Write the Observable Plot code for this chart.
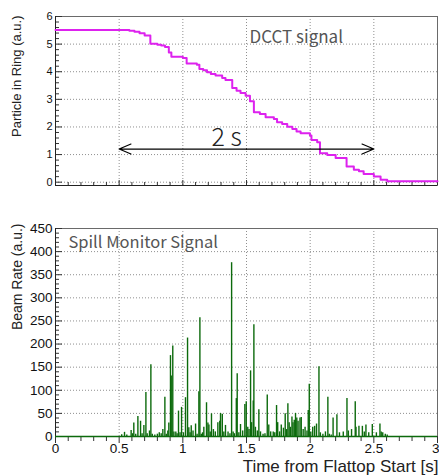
<!DOCTYPE html>
<html>
<head>
<meta charset="utf-8">
<script src="https://cdn.jsdelivr.net/npm/d3@7"></script>
<script src="https://cdn.jsdelivr.net/npm/@observablehq/plot@0.6"></script>
<style>
  html, body { margin: 0; padding: 0; background: #fff; }
  #chart svg { display: block; }
</style>
</head>
<body>
<div id="chart"></div>
<script>
// ---------- data ----------
const dcctTime  = [0, 0.58, 0.62, 0.66, 0.70, 0.745, 0.80, 0.83, 0.86, 0.89, 0.91, 1.00, 1.03, 1.11, 1.13, 1.16, 1.19, 1.22, 1.257, 1.309, 1.335, 1.388, 1.422, 1.453, 1.493, 1.527, 1.558, 1.605, 1.65, 1.715, 1.74, 1.78, 1.82, 1.86, 1.893, 1.925, 1.998, 2.01, 2.055, 2.077, 2.134, 2.20, 2.286, 2.343, 2.383, 2.42, 2.50, 2.553, 2.605, 3.0];
const dcctLevel = [5.51, 5.48, 5.45, 5.39, 5.31, 5.01, 4.98, 4.95, 4.90, 4.70, 4.54, 4.50, 4.30, 4.25, 4.10, 4.05, 3.98, 3.92, 3.86, 3.77, 3.70, 3.41, 3.31, 3.23, 3.13, 2.93, 2.53, 2.47, 2.35, 2.29, 2.17, 2.11, 2.01, 1.93, 1.84, 1.77, 1.69, 1.53, 1.45, 1.05, 0.98, 0.88, 0.57, 0.45, 0.40, 0.30, 0.21, 0.09, 0.03, 0.03];

const spillTime = [0.52, 0.542, 0.56, 0.594, 0.605, 0.615, 0.63, 0.647, 0.668, 0.68, 0.694, 0.71, 0.72, 0.738, 0.749, 0.76, 0.78, 0.80, 0.815, 0.83, 0.843, 0.859, 0.87, 0.882, 0.89, 0.903, 0.909, 0.921, 0.93, 0.945, 0.955, 0.966, 0.978, 0.99, 1.005, 1.021, 1.037, 1.047, 1.057, 1.066, 1.08, 1.10, 1.112, 1.126, 1.134, 1.145, 1.155, 1.165, 1.186, 1.197, 1.205, 1.215, 1.225, 1.24, 1.255, 1.275, 1.29, 1.296, 1.31, 1.322, 1.335, 1.355, 1.37, 1.383, 1.395, 1.405, 1.42, 1.427, 1.44, 1.453, 1.47, 1.487, 1.498, 1.51, 1.52, 1.532, 1.54, 1.553, 1.558, 1.57, 1.585, 1.597, 1.61, 1.63, 1.645, 1.663, 1.675, 1.69, 1.71, 1.722, 1.736, 1.745, 1.76, 1.773, 1.79, 1.804, 1.815, 1.825, 1.835, 1.845, 1.857, 1.865, 1.875, 1.885, 1.895, 1.905, 1.92, 1.93, 1.945, 1.96, 1.975, 1.985, 1.993, 2.005, 2.02, 2.035, 2.05, 2.069, 2.08, 2.10, 2.12, 2.139, 2.15, 2.165, 2.18, 2.21, 2.23, 2.26, 2.289, 2.30, 2.325, 2.354, 2.36, 2.383, 2.41, 2.425, 2.438, 2.46, 2.488, 2.52, 2.548, 2.558, 2.57, 2.59, 2.605];
const spillRate = [4, 9, 3, 13, 6, 29, 5, 43, 33, 6, 24, 95, 6, 12, 155, 5, 3, 5, 8, 6, 15, 85, 5, 12, 29, 175, 131, 196, 10, 10, 6, 55, 8, 63, 8, 84, 213, 19, 8, 23, 12, 27, 5, 97, 257, 5, 8, 20, 73, 29, 25, 10, 49, 15, 10, 30, 33, 50, 48, 10, 24, 10, 6, 376, 10, 6, 82, 136, 8, 26, 12, 69, 75, 20, 15, 142, 30, 77, 242, 20, 12, 58, 10, 5, 6, 90, 25, 10, 10, 8, 67, 30, 10, 25, 18, 49, 15, 71, 30, 20, 42, 30, 35, 50, 40, 33, 40, 41, 15, 20, 12, 56, 113, 10, 20, 22, 27, 151, 8, 5, 10, 85, 5, 3, 40, 47, 8, 10, 82, 12, 15, 75, 20, 22, 22, 10, 25, 8, 26, 8, 27, 10, 8, 5, 3];

const xTickValues = [0, 0.5, 1, 1.5, 2, 2.5, 3];
const xTickLabels = ["0", "0.5", "1", "1.5", "2", "2.5", "3"];
const dcctTickValues = [0, 1, 2, 3, 4, 5, 6];
const rateTickValues = [0, 50, 100, 150, 200, 250, 300, 350, 400, 450];

const arrowSpan = [0.5, 2.5];   // the "2 s" extraction window
const arrowLevel = 1.2;

const topYTitle = "Particle in Ring (a.u.)";
const bottomYTitle = "Beam Rate (a.u.)";
const xTitle = "Time from Flattop Start [s]";
const topLabel = "DCCT signal";
const bottomLabel = "Spill Monitor Signal";
const spanLabel = "2 s";

// ---------- styling ----------
const W = 439;
const FONT = "'Liberation Sans', Arial, Helvetica, sans-serif";
const CJK = "'Noto Sans CJK JP', 'Noto Sans', sans-serif";
const MAGENTA = "#dd22ee";
const GREEN = "#0c6a0c";
const GRID = "#8f8f8f";
const TICK = "#333";

const dcct = dcctTime.map((t, i) => ({t, v: dcctLevel[i]}));
const spill = spillTime.map((t, i) => ({t, v: spillRate[i]}));

const xMinor = d3.range(0, 3.0001, 0.1).filter(v => Math.abs(v * 2 - Math.round(v * 2)) > 1e-6);
const xMajor = xTickValues;

// ----- top panel -----
const tH = 200, tMT = 16, tMB = 15, ML = 55, MR = 2;
const tFrameH = tH - tMT - tMB;
const frameW = W - ML - MR;
const topYMinor = d3.range(0, 6.0001, 0.2).filter(v => Math.abs(v - Math.round(v)) > 1e-6);

const topPlot = Plot.plot({
  width: W, height: tH,
  marginLeft: ML, marginRight: MR, marginTop: tMT, marginBottom: tMB,
  style: {fontFamily: FONT, background: "#fff", color: "#222", overflow: "visible"},
  x: {domain: [0, 3], axis: null},
  y: {domain: [-0.12, 6], axis: null},
  marks: [
    Plot.ruleX(xTickValues.slice(1, -1), {stroke: GRID, strokeDasharray: "1,2"}),
    Plot.ruleY(dcctTickValues.slice(0, -1), {stroke: GRID, strokeDasharray: "1,2"}),
    Plot.frame({stroke: "#6a6a6a"}),
    Plot.ruleY(topYMinor, {stroke: TICK, insetRight: frameW - 4}),
    Plot.ruleY(dcctTickValues, {stroke: TICK, insetRight: frameW - 7}),
    Plot.ruleX(xMinor, {stroke: TICK, insetTop: tFrameH - 3}),
    Plot.ruleX(xMajor, {stroke: TICK, insetTop: tFrameH - 5}),
    Plot.ruleX([0], {stroke: "#222"}),
    Plot.ruleY([-0.12], {stroke: "#222"}),
    Plot.line(dcct, {x: "t", y: "v", curve: "step-after", stroke: MAGENTA, strokeWidth: 2}),
    Plot.arrow([{x1: (arrowSpan[0] + arrowSpan[1]) / 2, x2: arrowSpan[0]}, {x1: (arrowSpan[0] + arrowSpan[1]) / 2, x2: arrowSpan[1]}],
      {x1: "x1", x2: "x2", y1: () => arrowLevel, y2: () => arrowLevel, stroke: "#000", strokeWidth: 1.2, headLength: 16, headAngle: 46}),
    Plot.text(dcctTickValues, {y: d => d, text: d => String(d), frameAnchor: "left", dx: -3, textAnchor: "end", fontSize: 11, fill: "#111"}),
    Plot.text([topYTitle], {frameAnchor: "top-left", dx: -35, dy: -1, rotate: -90, textAnchor: "end", lineAnchor: "bottom", fontSize: 13, fill: "#222"}),
    Plot.text([topLabel], {frameAnchor: "top-left", dx: 194, dy: 26, textAnchor: "start", lineAnchor: "bottom", fontSize: 17, fontFamily: CJK, fill: "#555"}),
    Plot.text([spanLabel], {frameAnchor: "top-left", dx: 156, dy: 129, textAnchor: "start", lineAnchor: "bottom", fontSize: 25, fontWeight: 300, fontFamily: CJK, fill: "#222"})
  ]
});

// ----- bottom panel -----
const bH = 275, bMT = 28, bMB = 39;
const bFrameH = bH - bMT - bMB;
const rateMinor = d3.range(0, 450.001, 10).filter(v => v % 50 !== 0);
const lastX = xTickValues.length - 1;

const bottomPlot = Plot.plot({
  width: W, height: bH,
  marginLeft: ML, marginRight: MR, marginTop: bMT, marginBottom: bMB,
  style: {fontFamily: FONT, background: "#fff", color: "#222"},
  x: {domain: [0, 3], axis: null},
  y: {domain: [0, 450], axis: null},
  marks: [
    Plot.ruleX(xTickValues.slice(1, -1), {stroke: GRID, strokeDasharray: "1,2"}),
    Plot.ruleY(rateTickValues.slice(1, -1), {stroke: GRID, strokeDasharray: "1,2"}),
    Plot.frame({stroke: "#6a6a6a"}),
    Plot.ruleY(rateMinor, {stroke: TICK, insetRight: frameW - 4}),
    Plot.ruleY(rateTickValues, {stroke: TICK, insetRight: frameW - 7}),
    Plot.ruleX(xMinor, {stroke: TICK, insetTop: bFrameH, insetBottom: -5}),
    Plot.ruleX(xMajor, {stroke: TICK, insetTop: bFrameH, insetBottom: -7}),
    Plot.ruleX([0], {stroke: "#222"}),
    Plot.ruleX(spill, {x: "t", y1: 0, y2: "v", stroke: GREEN, strokeWidth: 1.4}),
    Plot.ruleY([0], {stroke: GREEN, strokeWidth: 1.6}),
    Plot.text(rateTickValues, {y: d => d, text: d => String(d), frameAnchor: "left", dx: -3, textAnchor: "end", fontSize: 13.5, fill: "#111"}),
    Plot.text(xTickValues.slice(0, lastX), {x: d => d, text: (d, i) => xTickLabels[i], frameAnchor: "bottom", dy: 16, lineAnchor: "bottom", fontSize: 13.5, fill: "#111"}),
    Plot.text(xTickValues.slice(lastX), {x: d => d, text: () => xTickLabels[lastX], frameAnchor: "bottom", dy: 16, dx: 2, textAnchor: "end", lineAnchor: "bottom", fontSize: 13.5, fill: "#111"}),
    Plot.text([bottomYTitle], {frameAnchor: "top-left", dx: -33.5, dy: -5, rotate: -90, textAnchor: "end", lineAnchor: "bottom", fontSize: 14, fill: "#222"}),
    Plot.text([xTitle], {frameAnchor: "bottom-right", dy: 35, dx: 1, textAnchor: "end", lineAnchor: "bottom", fontSize: 17, fill: "#222"}),
    Plot.text([bottomLabel], {frameAnchor: "top-left", dx: 13, dy: 19.5, textAnchor: "start", lineAnchor: "bottom", fontSize: 16.5, fontFamily: CJK, fill: "#555"})
  ]
});

document.getElementById("chart").append(topPlot, bottomPlot);
</script>
</body>
</html>
